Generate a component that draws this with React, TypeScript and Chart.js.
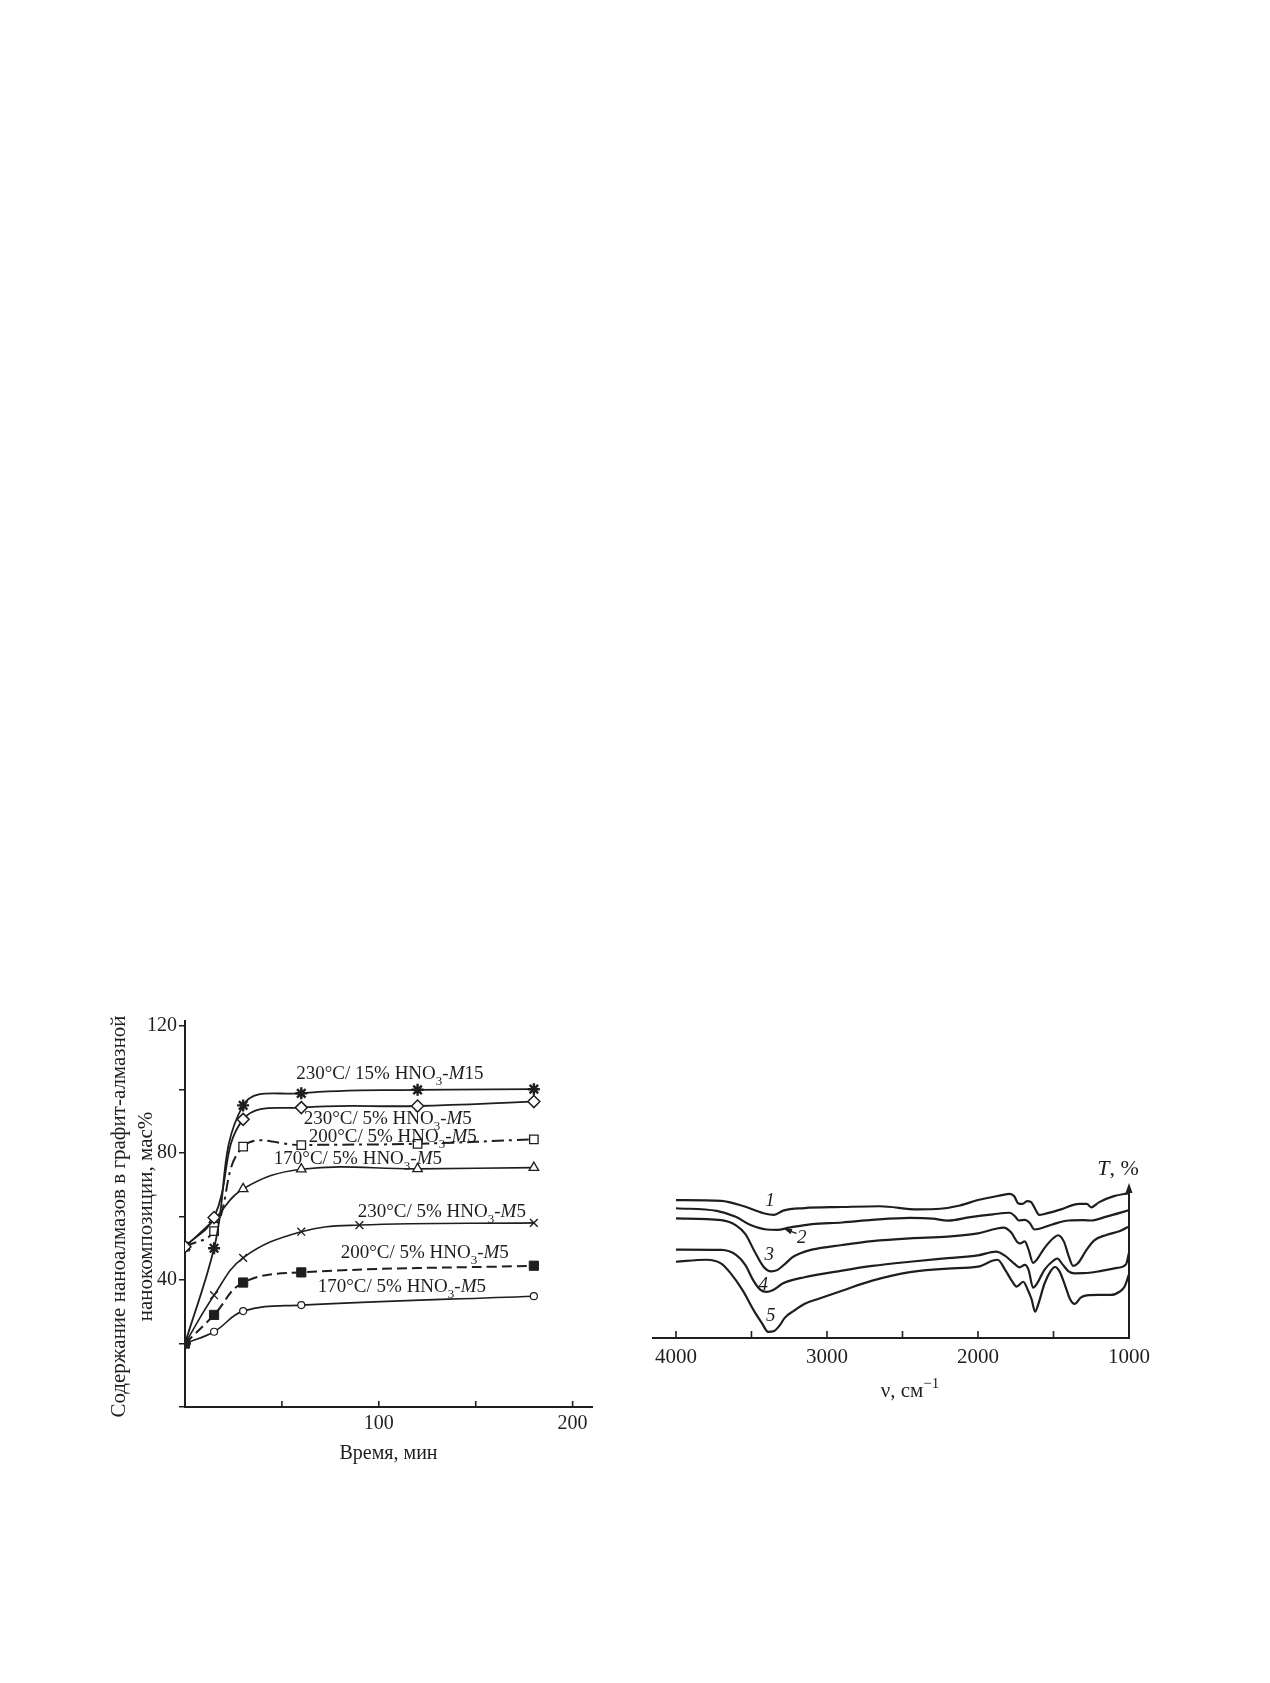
import React, { useEffect, useRef } from "react";
import { Chart, registerables } from "chart.js";

Chart.register(...registerables);

const INK = "#1e1e1e";
const SERIF = "'Liberation Serif', 'DejaVu Serif', serif";

// ---------- Left chart data (time, min -> content, wt%) ----------
const timeMain = [0, 15, 30, 60, 120, 180];
const timeCross = [0, 15, 30, 60, 90, 180];
const timeShort = [0, 15, 30, 60, 180];

const m15at230 = [20, 50, 95, 98.8, 99.9, 100.1];
const m5at230Upper = [50.5, 59.7, 90.6, 94.3, 94.8, 96.2];
const m5at200Upper = [50.5, 55.4, 82, 82.5, 82.9, 84.3];
const m5at170Upper = [50.5, 59, 68.7, 74.9, 75, 75.4];
const m5at230Lower = [20, 35.2, 47, 55.2, 57.3, 58];
const m5at200Lower = [20, 29, 39.2, 42.4, 44.5];
const m5at170Lower = [20, 23.7, 30.2, 32.1, 34.9];

const leftXTicks = [0, 50, 100, 150, 200];
const leftXTickLabels = [100, 200];
const leftYTicks = [0, 20, 40, 60, 80, 100, 120];
const leftYTickLabels = [40, 80, 120];

const leftLabelTexts = [
  "230°C/ 15% HNO_{3}-*M*15",
  "230°C/ 5% HNO_{3}-*M*5",
  "200°C/ 5% HNO_{3}-*M*5",
  "170°C/ 5% HNO_{3}-*M*5",
  "230°C/ 5% HNO_{3}-*M*5",
  "200°C/ 5% HNO_{3}-*M*5",
  "170°C/ 5% HNO_{3}-*M*5",
];
const leftLabelX = [105.7, 104.6, 107.2, 89.2, 132.5, 123.7, 111.9];
const leftLabelY = [105.2, 91.0, 85.4, 78.4, 61.7, 48.8, 38.1];

const leftYTitle = ["Содержание наноалмазов в графит-алмазной", "нанокомпозиции, мас%"];
const leftXTitle = "Время, мин";

// ---------- Right chart data (wavenumber, cm-1 -> T, %) ----------
const curve1: number[][] = [
  [4000, 89], [3700, 88.5], [3550, 85], [3420, 80.5], [3350, 79.4], [3290, 82.2], [3150, 83.8],
  [2900, 84.5], [2650, 85], [2400, 83], [2250, 83.4], [2120, 85.5], [2000, 89], [1850, 92],
  [1790, 93], [1760, 91.5], [1735, 87], [1705, 86.5], [1675, 88.3], [1650, 87.8], [1620, 83],
  [1595, 79.4], [1560, 80], [1450, 83], [1330, 86.5], [1280, 86.5], [1250, 84.3], [1200, 87.5],
  [1100, 91.5], [1000, 93.5],
];
const curve2: number[][] = [
  [4000, 83.7], [3730, 82], [3600, 78], [3510, 73], [3400, 70], [3330, 69.8], [3250, 71.2],
  [3100, 73.5], [2900, 74.5], [2700, 76.2], [2450, 77.5], [2300, 77], [2200, 75.7], [2050, 78],
  [1900, 79.8], [1790, 80.8], [1755, 78.5], [1730, 75.8], [1690, 76.2], [1660, 74.5], [1625, 70],
  [1600, 70.3], [1500, 73.5], [1400, 75.8], [1300, 76], [1250, 75.8], [1150, 78.3], [1000, 82.5],
];
const curve3: number[][] = [
  [4000, 77.2], [3700, 76], [3600, 72.5], [3540, 67], [3480, 56], [3420, 46], [3370, 43],
  [3330, 43.8], [3270, 48.5], [3230, 52], [3180, 54.5], [3100, 57], [2900, 60], [2700, 62.5],
  [2450, 64.3], [2200, 65.4], [2000, 67.5], [1880, 70.5], [1830, 71.2], [1780, 68], [1740, 62],
  [1720, 61], [1690, 62.4], [1665, 57], [1635, 48.5], [1615, 50], [1560, 58], [1500, 64.5],
  [1470, 66.3], [1430, 62], [1400, 53], [1370, 46.5], [1340, 48], [1280, 57], [1230, 63],
  [1150, 66.5], [1060, 69], [1000, 72],
];
const curve4: number[][] = [
  [4000, 57], [3700, 56.8], [3600, 53.5], [3540, 47], [3490, 37.5], [3440, 31], [3400, 29.7],
  [3360, 30.8], [3290, 35.3], [3150, 39.2], [2900, 43.5], [2700, 46.5], [2450, 49.2], [2200, 51.5],
  [2000, 53.3], [1880, 55.7], [1820, 53], [1760, 48], [1725, 45.6], [1690, 47.2], [1665, 44],
  [1635, 32.5], [1610, 35], [1560, 44], [1500, 50], [1475, 51.3], [1440, 47.5], [1400, 43],
  [1360, 41.7], [1300, 41.8], [1200, 43], [1080, 45.2], [1020, 47.5], [1000, 55],
];
const curve5: number[][] = [
  [4000, 49.2], [3800, 50.5], [3700, 48], [3640, 42], [3560, 31], [3480, 17], [3430, 9.5],
  [3390, 4], [3350, 4.5], [3310, 8.5], [3280, 13], [3220, 17.5], [3150, 22], [3050, 25.5],
  [2900, 30.5], [2700, 37], [2450, 42.5], [2200, 44.8], [2000, 46], [1900, 50], [1870, 50.5],
  [1820, 44], [1770, 36], [1745, 33.2], [1700, 36.3], [1670, 31], [1645, 25], [1622, 17],
  [1600, 22], [1560, 35], [1520, 43], [1490, 45.8], [1460, 43], [1420, 33], [1390, 25],
  [1360, 22], [1320, 26], [1280, 27.5], [1200, 27.8], [1120, 27.8], [1060, 30], [1030, 33],
  [1000, 41],
];

const rightXTicks = [1000, 1500, 2000, 2500, 3000, 3500, 4000];
const rightXTickLabels = [1000, 2000, 3000, 4000];
const curveNames = ["*1*", "*2*", "*3*", "*4*", "*5*"];
const curveNameWn = [3377, 3167, 3382, 3422, 3373];
const curveNameT = [89, 65.4, 54.2, 35.3, 14.8];
const rightXTitle = "ν, см^{−1}";
const rightYTitle = "*T*, %";

// ---------- rich text helpers ----------
type Part = { t: string; it: boolean; sub?: boolean; sup?: boolean };

function parseRich(s: string): Part[] {
  const parts: Part[] = [];
  let buf = "";
  let it = false;
  let i = 0;
  const flush = () => {
    if (buf) parts.push({ t: buf, it });
    buf = "";
  };
  while (i < s.length) {
    const c = s[i];
    if ((c === "_" || c === "^") && s[i + 1] === "{") {
      flush();
      const end = s.indexOf("}", i);
      parts.push({ t: s.slice(i + 2, end), it, sub: c === "_", sup: c === "^" });
      i = end + 1;
      continue;
    }
    if (c === "*") {
      flush();
      it = !it;
      i++;
      continue;
    }
    buf += c;
    i++;
  }
  flush();
  return parts;
}

function drawRich(ctx: CanvasRenderingContext2D, s: string, cx: number, cy: number, size: number) {
  const parts = parseRich(s);
  const fontOf = (p: Part) =>
    `${p.it ? "italic " : ""}${p.sub || p.sup ? Math.round(size * 0.7) : size}px ${SERIF}`;
  let w = 0;
  for (const p of parts) {
    ctx.font = fontOf(p);
    w += ctx.measureText(p.t).width;
  }
  let x = cx - w / 2;
  const base = cy + size * 0.33;
  ctx.textAlign = "left";
  ctx.textBaseline = "alphabetic";
  ctx.fillStyle = INK;
  for (const p of parts) {
    ctx.font = fontOf(p);
    const dy = p.sub ? size * 0.3 : p.sup ? -size * 0.42 : 0;
    ctx.fillText(p.t, x, base + dy);
    x += ctx.measureText(p.t).width;
  }
}

function xyData(xs: number[], ys: number[]) {
  return xs.map((x, i) => ({ x, y: ys[i] }));
}

function fixedTicks(values: number[]) {
  return (scale: any) => {
    scale.ticks = values.map((v) => ({ value: v }));
  };
}

// ---------- plugins ----------
const leftDecor = {
  id: "leftDecor",
  afterDraw(chart: any) {
    const { ctx, chartArea, scales } = chart;
    const x = scales.x;
    const y = scales.y;
    ctx.save();
    ctx.strokeStyle = INK;
    ctx.lineWidth = 1.6;
    for (const v of leftXTicks) {
      const px = x.getPixelForValue(v);
      ctx.beginPath();
      ctx.moveTo(px, chartArea.bottom);
      ctx.lineTo(px, chartArea.bottom - 6);
      ctx.stroke();
    }
    // small extension of the vertical axis above the top tick
    ctx.lineWidth = 2;
    ctx.beginPath();
    ctx.moveTo(chartArea.left, chartArea.top);
    ctx.lineTo(chartArea.left, chartArea.top - 6);
    ctx.stroke();
    leftLabelTexts.forEach((txt, i) => {
      drawRich(ctx, txt, x.getPixelForValue(leftLabelX[i]), y.getPixelForValue(leftLabelY[i]), 19);
    });
    ctx.restore();
  },
};

const rightDecor = {
  id: "rightDecor",
  afterDraw(chart: any) {
    const { ctx, chartArea, scales } = chart;
    const x = scales.x;
    const y = scales.y;
    ctx.save();
    ctx.strokeStyle = INK;
    ctx.fillStyle = INK;
    ctx.lineWidth = 1.6;
    for (const v of rightXTicks) {
      const px = x.getPixelForValue(v);
      ctx.beginPath();
      ctx.moveTo(px, chartArea.bottom);
      ctx.lineTo(px, chartArea.bottom - 7);
      ctx.stroke();
    }
    // vertical axis with arrow
    const ax = chartArea.right;
    const top = chartArea.top;
    ctx.lineWidth = 2;
    ctx.beginPath();
    ctx.moveTo(ax, chartArea.bottom + 1);
    ctx.lineTo(ax, top + 6);
    ctx.stroke();
    ctx.beginPath();
    ctx.moveTo(ax, top);
    ctx.lineTo(ax - 3.5, top + 10);
    ctx.lineTo(ax + 3.5, top + 10);
    ctx.closePath();
    ctx.fill();
    drawRich(ctx, rightYTitle, ax - 11, top - 15, 22);
    drawRich(ctx, rightXTitle, (chartArea.left + chartArea.right) / 2 + 19, chartArea.bottom + 52, 21);
    curveNames.forEach((n, i) => {
      drawRich(ctx, n, x.getPixelForValue(curveNameWn[i]), y.getPixelForValue(curveNameT[i]), 19);
    });
    // pointer for curve 2
    const x0 = x.getPixelForValue(3202);
    const y0 = y.getPixelForValue(67.5);
    const x1 = x.getPixelForValue(3282);
    const y1 = y.getPixelForValue(70.3);
    ctx.lineWidth = 1.4;
    ctx.beginPath();
    ctx.moveTo(x0, y0);
    ctx.lineTo(x1 + 3, y1 + 1);
    ctx.stroke();
    const ang = Math.atan2(y1 - y0, x1 - x0);
    ctx.beginPath();
    ctx.moveTo(x1, y1);
    ctx.lineTo(x1 - 8 * Math.cos(ang - 0.35), y1 - 8 * Math.sin(ang - 0.35));
    ctx.lineTo(x1 - 8 * Math.cos(ang + 0.35), y1 - 8 * Math.sin(ang + 0.35));
    ctx.closePath();
    ctx.fill();
    ctx.restore();
  },
};

function LeftChart() {
  const ref = useRef<HTMLCanvasElement | null>(null);
  useEffect(() => {
    if (!ref.current) return;
    const base = { borderColor: INK, pointBorderColor: INK, tension: 0.4, fill: false };
    const chart = new Chart(ref.current, {
      type: "line",
      data: {
        datasets: [
          { ...base, label: "230°C/15% M15", data: xyData(timeMain, m15at230), borderWidth: 1.8, pointStyle: "star", pointRadius: 6, pointBorderWidth: 2.4, pointBackgroundColor: INK },
          { ...base, label: "230°C/5% M5 a", data: xyData(timeMain, m5at230Upper), borderWidth: 1.8, pointStyle: "rectRot", pointRadius: 6, pointBorderWidth: 1.5, pointBackgroundColor: "#fff" },
          { ...base, label: "200°C/5% M5 a", data: xyData(timeMain, m5at200Upper), borderWidth: 2, borderDash: [12, 5, 3, 5], pointStyle: "rect", pointRadius: 6, pointBorderWidth: 1.3, pointBackgroundColor: "#fff" },
          { ...base, label: "170°C/5% M5 a", data: xyData(timeMain, m5at170Upper), borderWidth: 1.6, pointStyle: "triangle", pointRadius: 5.5, pointBorderWidth: 1.3, pointBackgroundColor: "#fff" },
          { ...base, label: "230°C/5% M5 b", data: xyData(timeCross, m5at230Lower), borderWidth: 1.6, pointStyle: "crossRot", pointRadius: 5.5, pointBorderWidth: 1.4, pointBackgroundColor: INK },
          { ...base, label: "200°C/5% M5 b", data: xyData(timeShort, m5at200Lower), borderWidth: 2, borderDash: [10, 5], pointStyle: "rect", pointRadius: 6.5, pointBorderWidth: 1, pointBackgroundColor: INK },
          { ...base, label: "170°C/5% M5 b", data: xyData(timeShort, m5at170Lower), borderWidth: 1.6, pointStyle: "circle", pointRadius: 3.5, pointBorderWidth: 1.2, pointBackgroundColor: "#fff" },
        ],
      },
      options: {
        responsive: false,
        animation: false,
        devicePixelRatio: 1,
        layout: { padding: { top: 26, right: 18, left: 0, bottom: 0 } },
        plugins: { legend: { display: false }, tooltip: { enabled: false } },
        scales: {
          x: {
            type: "linear",
            bounds: "data",
            min: 0,
            max: 210,
            afterBuildTicks: fixedTicks(leftXTicks),
            afterFit: (s: any) => { s.height = 73; },
            ticks: {
              autoSkip: false,
              maxRotation: 0,
              padding: -3,
              color: INK,
              font: { family: SERIF, size: 20 },
              callback: (v: any) => (leftXTickLabels.includes(Math.round(Number(v))) ? String(Math.round(Number(v))) : ""),
            },
            grid: { display: false },
            border: { display: true, color: INK, width: 2 },
            title: { display: true, text: leftXTitle, color: INK, font: { family: SERIF, size: 20 }, padding: { top: 0, bottom: 14 } },
          },
          y: {
            bounds: "data",
            min: 0,
            max: 120,
            afterBuildTicks: fixedTicks(leftYTicks),
            afterFit: (s: any) => { s.width = 95; },
            ticks: {
              autoSkip: false,
              padding: 2,
              color: INK,
              font: { family: SERIF, size: 20 },
              callback: (v: any) => (leftYTickLabels.includes(Math.round(Number(v))) ? String(Math.round(Number(v))) : ""),
            },
            grid: { display: true, drawOnChartArea: false, drawTicks: true, tickLength: 6, color: INK, lineWidth: 1.5 },
            border: { display: true, color: INK, width: 2 },
            title: { display: true, text: leftYTitle, color: INK, font: { family: SERIF, size: 21, lineHeight: 1.3 }, padding: { top: 16, bottom: 0 } },
          },
        },
      } as any,
      plugins: [leftDecor],
    });
    return () => chart.destroy();
  }, []);
  return (
    <canvas ref={ref} width={520} height={480} style={{ position: "absolute", left: 90, top: 1000, width: 520, height: 480 }} />
  );
}

function RightChart() {
  const ref = useRef<HTMLCanvasElement | null>(null);
  useEffect(() => {
    if (!ref.current) return;
    const mk = (label: string, pts: number[][]) => ({
      label,
      data: pts.map((p) => ({ x: p[0], y: p[1] })),
      borderColor: INK,
      borderWidth: 2.2,
      pointRadius: 0,
      cubicInterpolationMode: "monotone",
      fill: false,
    });
    const chart = new Chart(ref.current, {
      type: "line",
      data: {
        datasets: [mk("1", curve1), mk("2", curve2), mk("3", curve3), mk("4", curve4), mk("5", curve5)],
      },
      options: {
        responsive: false,
        animation: false,
        devicePixelRatio: 1,
        layout: { padding: { top: 33, right: 31, left: 13, bottom: 0 } },
        plugins: { legend: { display: false }, tooltip: { enabled: false } },
        scales: {
          x: {
            type: "linear",
            bounds: "data",
            reverse: true,
            min: 1000,
            max: 4152,
            afterBuildTicks: fixedTicks(rightXTicks),
            afterFit: (s: any) => { s.height = 72; },
            ticks: {
              autoSkip: false,
              maxRotation: 0,
              padding: -1,
              color: INK,
              font: { family: SERIF, size: 21 },
              callback: (v: any) => (rightXTickLabels.includes(Math.round(Number(v))) ? String(Math.round(Number(v))) : ""),
            },
            grid: { display: false },
            border: { display: true, color: INK, width: 2 },
          },
          y: { display: false, min: 0, max: 100 },
        },
      } as any,
      plugins: [rightDecor],
    });
    return () => chart.destroy();
  }, []);
  return (
    <canvas ref={ref} width={520} height={260} style={{ position: "absolute", left: 640, top: 1150, width: 520, height: 260 }} />
  );
}

export default function App() {
  return (
    <div style={{ position: "absolute", left: 0, top: 0, width: 1270, height: 1683, background: "#fff" }}>
      <LeftChart />
      <RightChart />
    </div>
  );
}
